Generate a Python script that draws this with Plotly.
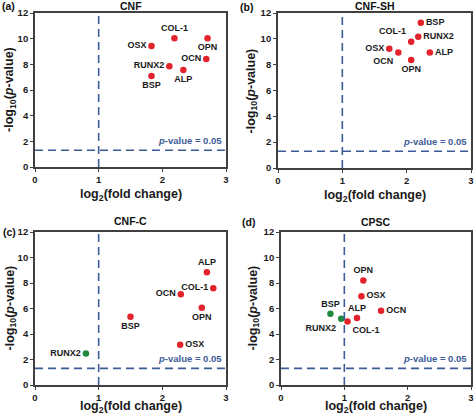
import plotly.graph_objects as go

# ---------------- data ----------------
genes_a = ["OSX", "COL-1", "OPN", "OCN", "RUNX2", "ALP", "BSP"]
fc_a = [1.83, 2.19, 2.71, 2.69, 2.11, 2.33, 1.83]
p_a = [9.43, 10.03, 10.03, 8.41, 7.86, 7.55, 7.10]
pos_a = ["middle left", "top center", "bottom center", "middle left", "middle left", "bottom center", "bottom center"]

genes_b = ["BSP", "RUNX2", "COL-1", "OSX", "OCN", "ALP", "OPN"]
fc_b = [2.22, 2.18, 2.07, 1.73, 1.87, 2.36, 2.07]
p_b = [11.25, 10.16, 9.77, 9.24, 8.95, 8.95, 8.36]
pos_b = ["middle right", "middle right", "top left", "middle left", "bottom left", "middle right", "bottom center"]

genes_c = ["ALP", "COL-1", "OCN", "OPN", "BSP", "OSX", "RUNX2"]
fc_c = [2.70, 2.80, 2.29, 2.62, 1.50, 2.28, 0.80]
p_c = [8.84, 7.59, 7.12, 6.05, 5.35, 3.16, 2.48]
pos_c = ["top center", "middle left", "middle left", "bottom center", "bottom center", "middle right", "middle left"]
col_c = ["up", "up", "up", "up", "up", "up", "down"]

genes_d = ["OPN", "OSX", "OCN", "ALP", "COL-1", "BSP", "RUNX2"]
fc_d = [1.30, 1.27, 1.58, 1.20, 1.05, 0.78, 0.95]
p_d = [8.19, 6.97, 5.82, 5.25, 4.98, 5.58, 5.19]
pos_d = ["top center", "middle right", "middle right", "top center", "bottom right", "top center", "bottom left"]
col_d = ["up", "up", "up", "up", "up", "down", "down"]

titles = ["CNF", "CNF-SH", "CNF-C", "CPSC"]
letters = ["(a)", "(b)", "(c)", "(d)"]
x_ticks = [0, 1, 2, 3]
y_ticks = [0, 2, 4, 6, 8, 10, 12]
fc_cut = 1.0
p_cut = 1.301  # -log10(0.05)

RED = "#e3232b"
GREEN = "#1f8a3f"
DASH = "#3d5b97"
AX = "#404040"
TXT = "#1a1a1a"
FONT = "Liberation Sans, Arial, sans-serif"

panels = [
    (genes_a, fc_a, p_a, pos_a, ["up"] * 7),
    (genes_b, fc_b, p_b, pos_b, ["up"] * 7),
    (genes_c, fc_c, p_c, pos_c, col_c),
    (genes_d, fc_d, p_d, pos_d, col_d),
]

W, H = 474, 416
# pixel boxes (left, right, top, bottom) and label positions
boxes = [(35, 226, 13, 167), (278, 471, 13, 168), (35, 226, 232, 385), (281, 471, 232, 385)]
xtitle_y = [195, 196, 407, 407]
ytitle_x = [10, 252, 10, 253]
title_y = [6, 6, 221, 222]
letter_xy = [(0, 6), (238, 7), (1, 232), (240, 222)]

fig = go.Figure()
for i, ((g, fx, py, pos, cl), (l, r, t, b)) in enumerate(zip(panels, boxes)):
    n = "" if i == 0 else str(i + 1)
    xa, ya = "x" + n, "y" + n
    colors = [RED if c == "up" else GREEN for c in cl]
    fig.add_trace(go.Scatter(
        x=fx, y=py, mode="markers+text", text=g, textposition=pos,
        marker=dict(color=colors, size=6.5, line=dict(width=0)),
        textfont=dict(family=FONT, size=9, color=TXT, weight="bold"),
        xaxis=xa, yaxis=ya, showlegend=False, cliponaxis=False))
    # threshold lines
    fig.add_trace(go.Scatter(x=[fc_cut, fc_cut], y=[0, 12], mode="lines",
                             line=dict(color=DASH, width=1.6, dash="8px,5px"),
                             xaxis=xa, yaxis=ya, showlegend=False, hoverinfo="skip"))
    fig.add_trace(go.Scatter(x=[0, 3], y=[p_cut, p_cut], mode="lines",
                             line=dict(color=DASH, width=1.6, dash="8px,5px"),
                             xaxis=xa, yaxis=ya, showlegend=False, hoverinfo="skip"))
    dom_x = [l / W, r / W]
    dom_y = [1 - b / H, 1 - t / H]
    axcommon = dict(showline=True, linecolor=AX, linewidth=1.8, mirror=True,
                    ticks="outside", ticklen=3, tickwidth=1.2, tickcolor=AX,
                    showgrid=False, zeroline=False, automargin=False,
                    tickfont=dict(family=FONT, size=9.5, color=TXT, weight="bold"))
    fig.update_layout(**{
        ("xaxis" + n): dict(domain=dom_x, range=[0, 3], tickvals=x_ticks, anchor=ya, **axcommon),
        ("yaxis" + n): dict(domain=dom_y, range=[0, 12], tickvals=y_ticks, anchor=xa, **axcommon),
    })
    # axis titles
    fig.add_annotation(x=(l + r) / 2 / W, y=1 - xtitle_y[i] / H, xref="paper", yref="paper",
                       xanchor="center", yanchor="middle",
                       showarrow=False, text="<b>log<sub>2</sub>(fold change)</b>",
                       font=dict(family=FONT, size=12.5, color=TXT))
    fig.add_annotation(x=ytitle_x[i] / W, y=1 - (t + b) / 2 / H, xref="paper", yref="paper",
                       xanchor="center", yanchor="middle",
                       showarrow=False, textangle=-90,
                       text="<b>-log<sub>10</sub>(<i>p</i>-value)</b>",
                       font=dict(family=FONT, size=12.5, color=TXT))
    fig.add_annotation(x=3, y=p_cut, xref=xa, yref=ya, xanchor="right", yanchor="bottom",
                       xshift=-2, yshift=2, showarrow=False,
                       text="<b><i>p</i>-value = 0.05</b>",
                       font=dict(family=FONT, size=9.5, color=DASH))
    fig.add_annotation(x=(l + r) / 2 / W, y=1 - title_y[i] / H, xref="paper", yref="paper",
                       xanchor="center", yanchor="middle",
                       showarrow=False, text="<b>" + titles[i] + "</b>",
                       font=dict(family=FONT, size=10.5, color="#111"))
    fig.add_annotation(x=letter_xy[i][0] / W, y=1 - letter_xy[i][1] / H, xref="paper", yref="paper",
                       xanchor="left", yanchor="middle", showarrow=False,
                       text="<b>" + letters[i] + "</b>",
                       font=dict(family=FONT, size=10.5, color="#111"))

fig.update_layout(width=W, height=H, margin=dict(l=0, r=0, t=0, b=0, autoexpand=False),
                  plot_bgcolor="white", paper_bgcolor="white")
fig.write_html("out.html", config={"displayModeBar": False},
               post_script="document.body.style.margin='0';document.body.style.overflow='hidden';")
